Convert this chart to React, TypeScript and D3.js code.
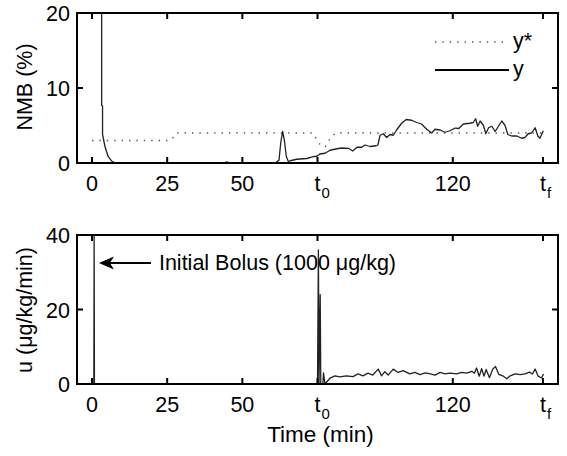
import React from 'react'
import * as d3 from 'd3'

// x axis ticks (t0 and tf drawn with subscripts)
const xTickValues = [0, 25, 50, 75, 120, 150]
const xTickLabels = ['0', '25', '50', 't', '120', 't']
const xTickSubs = ['', '', '', '0', '', 'f']
const nmbTicks = [0, 10, 20]
const uTicks = [0, 20, 40]

// NMB measured (y)
const nmbTime = [3.2, 3.2, 3.5, 3.5, 4.3, 5.4, 6.5, 7.6, 10, 44, 44.8, 45.6, 61, 62.2, 62.8, 63.4, 64, 64.6, 65.3, 65.9, 68.1, 71.4, 73.6, 74.8, 75.8, 77.5, 79.2, 81.4, 83.1, 85.3, 86.7, 88.1, 89.7, 90.8, 92.5, 94.5, 95.1, 95.8, 96.9, 98, 99.1, 100.2, 101.3, 103, 104.5, 106.3, 108, 109.6, 111.3, 113, 114.1, 115.8, 117.4, 119.1, 120.8, 122, 123.5, 125.7, 126.8, 127.6, 128.3, 129.1, 130.2, 131, 131.9, 133, 134.1, 135.5, 136.3, 137.4, 138.3, 139.6, 141.3, 142.9, 144, 145.1, 146.2, 147.4, 148.3, 149, 150.1]
const nmbValue = [22, 7.7, 7.6, 3.8, 2.2, 0.84, 0.27, 0.02, 0, 0, 0.15, 0, 0, 0.4, 2.8, 4.2, 3.0, 0.9, 0.2, 0.3, 0.5, 0.6, 0.84, 0.9, 1.2, 1.3, 1.7, 1.9, 2.0, 1.96, 1.6, 2.1, 2.1, 2.4, 2.2, 2.3, 2.4, 3.7, 3.9, 3.4, 3.8, 3.7, 4.4, 5.3, 5.8, 5.7, 5.4, 5.2, 4.5, 4.0, 4.5, 4.4, 4.1, 4.3, 4.66, 4.6, 5.2, 5.3, 5.4, 5.9, 4.9, 5.6, 5.0, 3.9, 4.7, 4.9, 4.2, 5.1, 5.6, 5.0, 3.8, 3.6, 3.6, 3.3, 3.4, 3.9, 4.0, 4.7, 3.6, 3.3, 4.3]

// NMB target (y*)
const refTime = [0, 25, 26.5, 28, 73.5, 75.5, 77.5, 79.2, 81, 150]
const refValue = [3, 3, 3.1, 4, 4, 2.6, 2.1, 3.3, 4, 4]

// infusion rate (u)
const uTime = [0.6, 0.7, 0.8, 75.0, 75.3, 75.5, 75.9, 76.1, 76.8, 77.0, 77.5, 79.2, 80.8, 82.4, 84.6, 86.8, 88.5, 90.1, 91.8, 93.4, 95.2, 96.3, 97.4, 98.5, 100.2, 101.8, 103.5, 105.7, 107.4, 109.1, 110.8, 112.5, 114.1, 115.8, 117.4, 119.1, 121.3, 123, 124.6, 126.3, 127.2, 127.9, 128.8, 129.6, 130.4, 131.1, 132.2, 133.3, 134.2, 135.3, 136.6, 138, 139.1, 140.8, 142.4, 144, 145.5, 146.5, 147.4, 148.4, 149.5, 150.2]
const uValue = [0, 40, 0, 0, 36, 0, 24, 0, 0, 3, 0, 1.6, 2.2, 1.9, 2.2, 2.0, 2.7, 2.2, 2.9, 2.4, 4.0, 2.2, 3.3, 2.4, 4.0, 3.1, 3.6, 2.7, 3.1, 2.5, 3.0, 2.7, 2.4, 3.1, 2.7, 2.9, 2.7, 3.1, 2.9, 3.4, 2.9, 4.3, 2.1, 4.1, 2.1, 3.9, 1.7, 4.0, 4.7, 2.6, 2.2, 1.4, 2.2, 2.7, 2.5, 2.7, 3.2, 2.7, 4.0, 2.1, 1.6, 2.7]

const W = 567
const H = 456
const left = 77
const right = 558
const font = 'Liberation Sans, Arial, Helvetica, sans-serif'
const fs = 21.5

const x = d3.scaleLinear().domain([-5, 155]).range([left, right])
const yTop = d3.scaleLinear().domain([0, 20]).range([163, 13])
const yBot = d3.scaleLinear().domain([0, 40]).range([384, 235])

const zip = (a: number[], b: number[]) => a.map((t, i) => [t, b[i]] as [number, number])

function Panel ({ y, ticks, id, children }: { y: d3.ScaleLinear<number, number>, ticks: number[], id: string, children: React.ReactNode }) {
  const [y0, y1] = y.range()
  const tl = 6
  return <g>
    <defs>
      <clipPath id={id}>
        <rect x={left} y={y1} width={right - left} height={y0 - y1} />
      </clipPath>
    </defs>
    <g clipPath={`url(#${id})`}>{children}</g>
    <rect x={left} y={y1} width={right - left} height={y0 - y1} fill='none' stroke='#000' strokeWidth={2} />
    {xTickValues.map((v, i) => <g key={i}>
      <line x1={x(v)} x2={x(v)} y1={y0} y2={y0 - tl} stroke='#000' strokeWidth={2} />
      <line x1={x(v)} x2={x(v)} y1={y1} y2={y1 + tl} stroke='#000' strokeWidth={2} />
      <text x={x(v)} y={y0 + 28} textAnchor='middle' fontSize={fs}>{xTickLabels[i]}</text>
      {xTickSubs[i] && <text x={x(v) + 4} y={y0 + 35} fontSize={15}>{xTickSubs[i]}</text>}
    </g>)}
    {ticks.map((v, i) => <g key={i}>
      <line x1={left} x2={left + tl} y1={y(v)} y2={y(v)} stroke='#000' strokeWidth={2} />
      <line x1={right} x2={right - tl} y1={y(v)} y2={y(v)} stroke='#000' strokeWidth={2} />
      <text x={left - 7} y={y(v) + 8} textAnchor='end' fontSize={fs}>{v}</text>
    </g>)}
  </g>
}

export default function App () {
  const lineTop = d3.line<[number, number]>().x(d => x(d[0])).y(d => yTop(d[1]))
  const lineBot = d3.line<[number, number]>().x(d => x(d[0])).y(d => yBot(d[1]))
  const nmb = lineTop(zip(nmbTime, nmbValue)) || ''
  const ref = lineTop(zip(refTime, refValue)) || ''
  const u = lineBot(zip(uTime, uValue)) || ''
  const ax = x(2.3)
  const ay = yBot(32.5)
  return <svg width={W} height={H} style={{ position: 'absolute', left: 0, top: 0, background: '#fff' }} fontFamily={font}>
    <rect width={W} height={H} fill='#fff' />
    <Panel y={yTop} ticks={nmbTicks} id='clipTop'>
      <path d={ref} fill='none' stroke='#555' strokeWidth={1.4} strokeDasharray='1.4 6' />
      <path d={nmb} fill='none' stroke='#222' strokeWidth={1.3} strokeLinejoin='round' />
    </Panel>
    <Panel y={yBot} ticks={uTicks} id='clipBot'>
      <path d={u} fill='none' stroke='#222' strokeWidth={1.3} strokeLinejoin='round' />
    </Panel>
    {/* legend */}
    <line x1={435} x2={508} y1={42} y2={42} stroke='#555' strokeWidth={1.4} strokeDasharray='1.4 6' />
    <text x={513} y={48} fontSize={fs}>y*</text>
    <line x1={435} x2={509} y1={70} y2={70} stroke='#000' strokeWidth={2} />
    <text x={513} y={76} fontSize={fs}>y</text>
    {/* annotation */}
    <path d={`M${ax},${ay} L${ax + 15},${ay - 6.5} L${ax + 11},${ay} L${ax + 15},${ay + 6.5} Z`} fill='#000' />
    <line x1={ax + 10} x2={ax + 52} y1={ay} y2={ay} stroke='#000' strokeWidth={2} />
    <text x={ax + 60} y={ay + 7.5} fontSize={fs}>Initial Bolus (1000 μg/kg)</text>
    {/* axis labels */}
    <text transform={`translate(32,${87}) rotate(-90)`} textAnchor='middle' fontSize={fs}>NMB (%)</text>
    <text transform={`translate(32,${310}) rotate(-90)`} textAnchor='middle' fontSize={fs}>u (μg/kg/min)</text>
    <text x={(left + right) / 2 + 3} y={442} textAnchor='middle' fontSize={22.5}>Time (min)</text>
  </svg>
}
